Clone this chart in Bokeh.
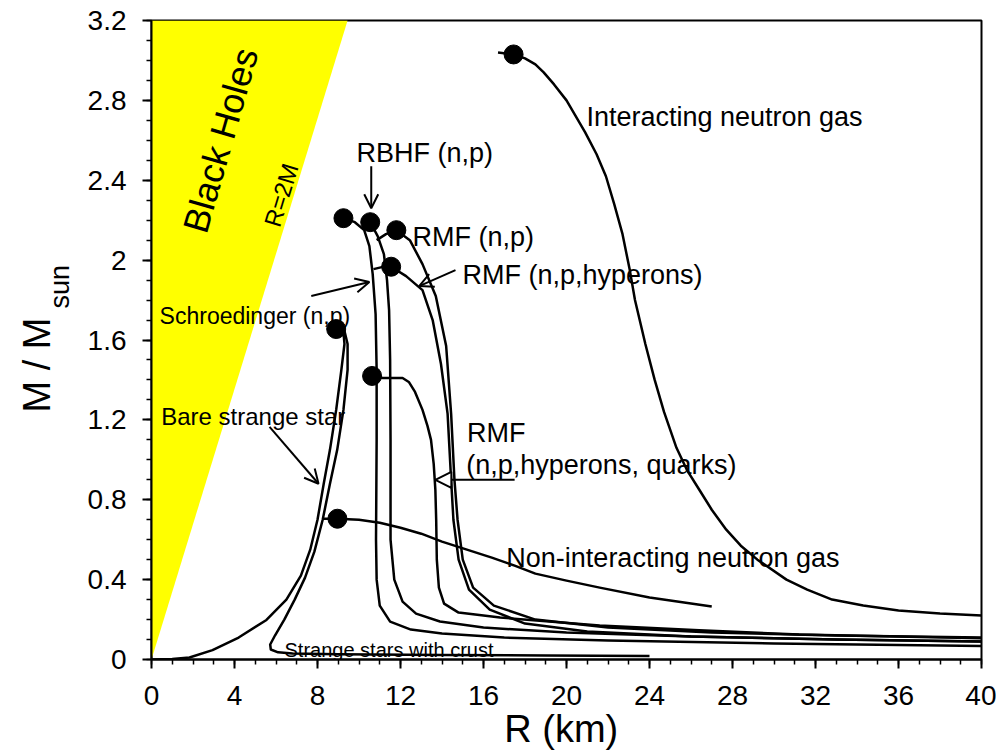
import math
from bokeh.plotting import figure
from bokeh.models import Label, Arrow, OpenHead, NormalHead, FixedTicker, Range1d, NumeralTickFormatter, Title
from bokeh.embed import file_html
from bokeh.resources import INLINE

FONT = "Liberation Sans"

# ---------------- data ----------------
# Black-hole region R = 2GM/c^2
bh_R = [0.0, 9.45, 0.0]
bh_M = [0.0, 3.2, 3.2]

interacting_R = [16.7, 17.45, 18.0, 18.5, 18.9, 19.4, 20.0, 20.9, 21.45, 21.9, 22.3, 22.7, 23.05, 23.3, 23.8, 24.25, 24.7,
                 25.3, 25.8, 26.4, 27.0, 27.7, 28.4, 29.2, 30.6, 31.6, 32.8, 34.3, 36.0, 38.0, 40.0]
interacting_M = [3.04, 3.03, 3.01, 2.98, 2.94, 2.88, 2.80, 2.64, 2.53, 2.42, 2.28, 2.13, 1.95, 1.80, 1.58, 1.40, 1.24,
                 1.06, 0.95, 0.85, 0.75, 0.65, 0.57, 0.50, 0.40, 0.35, 0.30, 0.27, 0.245, 0.23, 0.22]

noninter_R = [8.3, 8.96, 10.0, 11.0, 12.0, 13.0, 14.0, 15.2, 16.4, 17.5, 18.5, 20.0, 21.6, 24.0, 27.0]
noninter_M = [0.705, 0.705, 0.70, 0.685, 0.66, 0.63, 0.59, 0.55, 0.51, 0.47, 0.43, 0.395, 0.36, 0.31, 0.265]

bare_R = [0.0, 1.0, 1.83, 2.94, 4.2, 5.54, 6.5, 7.2, 7.65, 8.0, 8.3, 8.6, 8.9, 9.15, 9.3, 9.25, 9.1, 8.9]
bare_M = [0.0, 0.002, 0.01, 0.047, 0.11, 0.198, 0.30, 0.42, 0.55, 0.70, 0.88, 1.05, 1.25, 1.45, 1.58, 1.64, 1.655, 1.655]

crust_R = [8.9, 9.3, 9.45, 9.45, 9.25, 8.95, 8.6, 8.25, 7.85, 7.4, 6.9, 6.4, 5.95, 5.72, 5.75, 6.1, 6.8, 9.0, 14.0, 19.0, 24.0]
crust_M = [1.655, 1.645, 1.58, 1.45, 1.25, 1.05, 0.88, 0.70, 0.54, 0.41, 0.30, 0.20, 0.12, 0.075, 0.05, 0.036, 0.03, 0.026, 0.022, 0.02, 0.018]

schroed_R = [9.25, 9.8, 10.25, 10.5, 10.66, 10.8, 10.85, 10.85, 10.82, 10.85, 11.0, 11.5, 12.5, 14.0, 17.0, 22.0, 30.0, 40.0]
schroed_M = [2.21, 2.19, 2.15, 2.07, 1.93, 1.73, 1.45, 1.1, 0.6, 0.4, 0.27, 0.19, 0.15, 0.13, 0.11, 0.095, 0.08, 0.068]

rbhf_R = [10.54, 10.9, 11.2, 11.35, 11.45, 11.5, 11.52, 11.52, 11.7, 12.1, 12.75, 13.9, 16.0, 20.0, 26.0, 33.0, 40.0]
rbhf_M = [2.19, 2.12, 2.03, 1.9, 1.75, 1.5, 1.1, 0.6, 0.4, 0.29, 0.23, 0.19, 0.16, 0.135, 0.115, 0.1, 0.09]

rmf_np_R = [10.85, 11.3, 11.8, 12.45, 13.06, 13.7, 14.2, 14.44, 14.6, 14.75, 15.0, 15.5, 16.5, 18.5, 22.0, 27.0, 33.0, 40.0]
rmf_np_M = [2.10, 2.13, 2.15, 2.10, 1.98, 1.82, 1.57, 1.23, 0.9, 0.7, 0.5, 0.36, 0.27, 0.2, 0.16, 0.135, 0.12, 0.11]

rmf_hyp_R = [10.7, 11.1, 11.55, 12.27, 13.06, 13.55, 13.95, 14.27, 14.44, 14.55, 14.8, 15.3, 16.3, 18.0, 21.0, 26.0, 33.0, 40.0]
rmf_hyp_M = [1.955, 1.965, 1.967, 1.92, 1.85, 1.70, 1.48, 1.23, 0.9, 0.7, 0.5, 0.35, 0.25, 0.18, 0.14, 0.115, 0.1, 0.09]

rmf_qrk_R = [10.63, 11.15, 12.1, 12.4, 12.7, 13.06, 13.3, 13.47, 13.6, 13.68, 13.72, 13.75, 13.85, 14.1, 14.8, 16.8, 21.6, 26.4, 31.2, 40.0]
rmf_qrk_M = [1.42, 1.41, 1.41, 1.39, 1.34, 1.25, 1.17, 1.10, 0.98, 0.85, 0.7, 0.5, 0.36, 0.28, 0.235, 0.21, 0.17, 0.147, 0.125, 0.107]

# maximum-mass configurations (dots)
max_R = [17.45, 9.25, 10.54, 11.8, 11.55, 8.9, 10.63, 8.96]
max_M = [3.03, 2.21, 2.19, 2.15, 1.967, 1.655, 1.42, 0.705]

x_ticks = [0, 4, 8, 12, 16, 20, 24, 28, 32, 36, 40]
x_tick_labels = ["0", "4", "8", "12", "16", "20", "24", "28", "32", "36", "40"]
x_minor = [0, 1, 2, 3, 4, 5, 6, 7, 8, 9, 10, 11, 12, 13, 14, 15, 16, 17, 18, 19, 20,
           21, 22, 23, 24, 25, 26, 27, 28, 29, 30, 31, 32, 33, 34, 35, 36, 37, 38, 39, 40]
y_ticks = [0, 0.4, 0.8, 1.2, 1.6, 2, 2.4, 2.8, 3.2]
y_tick_labels = ["0", "0.4", "0.8", "1.2", "1.6", "2", "2.4", "2.8", "3.2"]
y_minor = [0, 0.1, 0.2, 0.3, 0.4, 0.5, 0.6, 0.7, 0.8, 0.9, 1.0, 1.1, 1.2, 1.3, 1.4, 1.5, 1.6,
           1.7, 1.8, 1.9, 2.0, 2.1, 2.2, 2.3, 2.4, 2.5, 2.6, 2.7, 2.8, 2.9, 3.0, 3.1, 3.2]

# annotations: (text, x, y, size)
texts = [
    ("Interacting neutron gas", 20.96, 2.717, "27px"),
    ("RBHF (n,p)", 9.88, 2.535, "27px"),
    ("RMF (n,p)", 12.58, 2.117, "27px"),
    ("RMF (n,p,hyperons)", 14.99, 1.925, "27px"),
    ("Schroedinger (n,p)", 0.39, 1.722, "23px"),
    ("Bare strange star", 0.47, 1.215, "24px"),
    ("RMF", 15.2, 1.132, "27px"),
    ("(n,p,hyperons, quarks)", 15.17, 0.975, "27px"),
    ("Non-interacting neutron gas", 17.1, 0.509, "27px"),
    ("Strange stars with crust", 6.41, 0.047, "20px"),
]

# arrows: (x_start, y_start, x_end, y_end)
open_arrows = [
    (10.59, 2.47, 10.59, 2.26),   # RBHF
    (7.7, 1.82, 10.5, 1.89),      # Schroedinger
    (14.65, 1.95, 12.9, 1.87),    # RMF hyperons
    (5.69, 1.165, 8.05, 0.88),    # bare strange star
]
tri_arrows = [
    (17.5, 0.9, 13.68, 0.9),      # RMF quarks
]

# ---------------- figure ----------------
p = figure(frame_width=830, frame_height=639, x_range=Range1d(0, 40), y_range=Range1d(0, 3.2),
           output_backend="svg", toolbar_location=None, title=None,
           min_border_left=151, min_border_top=20, min_border_right=15, min_border_bottom=92)
p.grid.visible = False
p.outline_line_color = "black"
p.outline_line_width = 2
p.background_fill_color = "white"
p.border_fill_color = "white"

for ax, ticks, minor, labels in ((p.xaxis[0], x_ticks, x_minor, x_tick_labels),
                                 (p.yaxis[0], y_ticks, y_minor, y_tick_labels)):
    ax.ticker = FixedTicker(ticks=ticks, minor_ticks=minor)
    ax.formatter = NumeralTickFormatter(format="0.[0]")
    ax.major_label_overrides = {t: l for t, l in zip(ticks, labels)}
    ax.axis_line_width = 2
    ax.axis_line_color = "black"
    ax.major_tick_line_width = 2
    ax.minor_tick_line_width = 1.5
    ax.major_tick_out = 9
    ax.major_tick_in = 0
    ax.minor_tick_out = 5
    ax.minor_tick_in = 0
    ax.major_label_text_font = FONT
    ax.major_label_text_font_size = "28px"
    ax.major_label_text_color = "black"
p.xaxis.major_label_standoff = 17
p.yaxis.major_label_standoff = 16

p.xaxis.axis_label = "R  (km)"
p.xaxis.axis_label_text_font = FONT
p.xaxis.axis_label_text_font_size = "38px"
p.xaxis.axis_label_text_font_style = "normal"
p.xaxis.axis_label_text_color = "black"
p.xaxis.axis_label_standoff = 0

# y-axis title: "M / M" with subscript "sun"
p.add_layout(Title(text="sun", text_font=FONT, text_font_size="27px", text_font_style="normal",
                   text_color="black", align="left", offset=351, standoff=20), "left")
p.add_layout(Title(text="M / M", text_font=FONT, text_font_size="38px", text_font_style="normal",
                   text_color="black", align="left", offset=247, standoff=-50), "left")

# black hole region
p.patch(bh_R, bh_M, fill_color="#FFFF00", line_color=None)

curves = [(interacting_R, interacting_M), (noninter_R, noninter_M), (bare_R, bare_M),
          (crust_R, crust_M), (schroed_R, schroed_M), (rbhf_R, rbhf_M),
          (rmf_np_R, rmf_np_M), (rmf_hyp_R, rmf_hyp_M), (rmf_qrk_R, rmf_qrk_M)]
for r, m in curves:
    p.line(r, m, line_color="black", line_width=2.5, line_join="round")

p.scatter(max_R, max_M, size=19, color="black")

for txt, x, y, sz in texts:
    p.add_layout(Label(x=x, y=y, text=txt, text_font=FONT, text_font_size=sz,
                       text_color="black", text_baseline="alphabetic", text_align="left"))

p.add_layout(Label(x=3.33, y=2.60, text="Black Holes", angle=math.radians(74), text_font=FONT,
                   text_font_size="36px", text_color="black", text_align="center", text_baseline="middle"))
p.add_layout(Label(x=6.25, y=2.326, text="R=2M", angle=math.radians(73), text_font=FONT,
                   text_font_size="24px", text_color="black", text_align="center", text_baseline="middle"))

for xs, ys, xe, ye in open_arrows:
    p.add_layout(Arrow(end=OpenHead(size=14, line_width=2), x_start=xs, y_start=ys,
                       x_end=xe, y_end=ye, line_width=2))
for xs, ys, xe, ye in tri_arrows:
    p.add_layout(Arrow(end=NormalHead(size=16, line_width=2, fill_color="white"), x_start=xs,
                       y_start=ys, x_end=xe, y_end=ye, line_width=2))

open("out.html", "w").write(file_html(p, INLINE))
